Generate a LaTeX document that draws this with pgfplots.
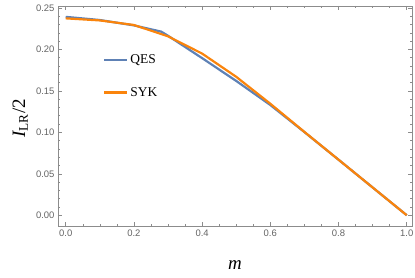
\documentclass[border=0pt]{standalone}
\usepackage{pgfplots}
\pgfplotsset{compat=1.18}
\usepackage{fontspec}
\setmainfont{Liberation Serif}
\newfontfamily\sansf{Liberation Sans}
\definecolor{qesblue}{RGB}{94,129,181}
\definecolor{sykorange}{RGB}{250,132,12}
\definecolor{framegray}{RGB}{140,140,140}
\definecolor{labelgray}{RGB}{100,100,100}
\begin{document}
\begin{tikzpicture}
\begin{axis}[
  scale only axis,
  width=354bp, height=220bp,
  xmin=-0.0226, xmax=1.0155,
  ymin=-0.013, ymax=0.2524,
  xtick={0,0.2,0.4,0.6,0.8,1.0},
  ytick={0,0.05,0.1,0.15,0.2,0.25},
  minor x tick num=3,
  minor y tick num=4,
  tick align=inside,
  major tick length=4bp,
  minor tick length=2.5bp,
  axis line style={framegray, line width=0.6bp},
  every tick/.style={framegray, line width=0.5bp},
  /pgf/number format/assume math mode=true,
  xticklabel style={font=\sansf\fontsize{9.5}{11}\selectfont, text=labelgray, /pgf/number format/.cd, fixed, fixed zerofill, precision=1},
  yticklabel style={font=\sansf\fontsize{9.5}{11}\selectfont, text=labelgray, /pgf/number format/.cd, fixed, fixed zerofill, precision=2},
  scaled ticks=false,
  xlabel={\itshape m},
  ylabel={{\itshape I}\textsubscript{LR}/2},
  xlabel style={font=\fontsize{19}{22}\selectfont, at={(axis description cs:0.5,-0.177)}, anchor=center},
  ylabel style={font=\fontsize{19}{22}\selectfont, at={(axis description cs:-0.107,0.49)}, anchor=center},
  legend style={at={(axis description cs:0.1186,0.797)}, anchor=north west, draw=none, fill=none,
    font=\fontsize{13.5}{15}\selectfont, row sep=18bp,
    /tikz/every even column/.style={column sep=4bp}},
  legend cell align=left,
  legend image code/.code={\draw[#1] (0bp,0bp) -- (23bp,0bp);},
]
\addplot[qesblue, line width=2.2bp] coordinates {
(0,0.2393) (0.1,0.2355) (0.2,0.2290) (0.28,0.2215) (0.3,0.2165) (0.4,0.1895)
(0.5,0.1620) (0.6,0.1330) (0.7,0.1003) (0.8,0.0670) (0.9,0.0335) (1.0,0)
};
\addlegendentry{QES}
\addplot[sykorange, line width=2.2bp] coordinates {
(0,0.2375) (0.1,0.2350) (0.2,0.2295) (0.3,0.2158) (0.4,0.1950)
(0.5,0.1670) (0.6,0.1345) (0.7,0.1005) (0.8,0.0670) (0.9,0.0335) (1.0,0)
};
\addlegendentry{SYK}
\end{axis}
\pgfresetboundingbox
\path (-58bp,-52bp) rectangle (357bp,226bp);
\end{tikzpicture}
\end{document}
